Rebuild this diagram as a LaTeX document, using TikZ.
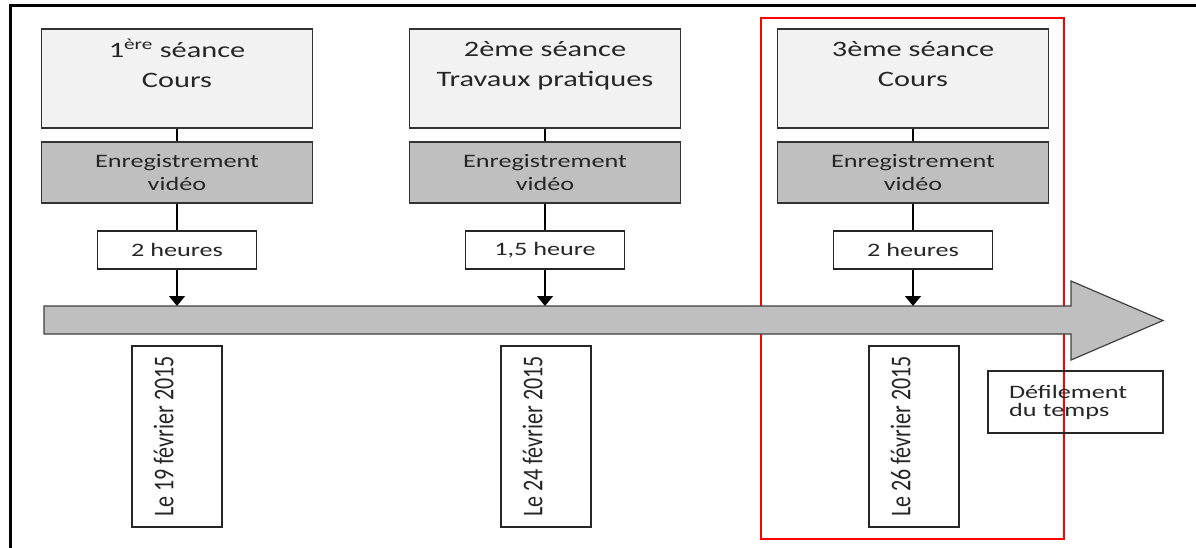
\documentclass[tikz,border=0pt]{standalone}
\usepackage{fontspec}
\setmainfont{Carlito}[FakeStretch=1.38]
\newfontfamily\datefont{Carlito}[FakeStretch=0.77]
\usetikzlibrary{arrows.meta}

\tikzset{
    session/.style={draw=black!80, line width=1.2pt, fill=black!5, minimum width=271pt, minimum height=99pt,
        align=center, font=\fontsize{22}{30}\selectfont},
    recording/.style={draw=black!80, line width=1.2pt, fill=black!25, minimum width=271pt, minimum height=61pt,
        align=center, font=\fontsize{19}{23}\selectfont},
    duration/.style={draw=black!85, line width=1.2pt, fill=white, minimum width=159pt, minimum height=38pt,
        font=\fontsize{19}{23}\selectfont},
    datebox/.style={draw=black!85, line width=1.2pt, rotate=90, minimum width=181pt, minimum height=90pt,
        align=center, font=\datefont\fontsize{28.6}{27}\selectfont},
    link/.style={draw=black, line width=1.3pt},
}

\begin{document}
\begin{tikzpicture}[x=1pt, y=-1pt, text=black!85]
    \useasboundingbox (0,0) rectangle (1196,548);
    \draw [line width=3pt] (10.5,548) -- (10.5,5.5) -- (1196,5.5);

    % sessions
    \node (session_1) [session] at (177,78.5) {1\textsuperscript{ère} séance\\Cours\\~};
    \node (session_2) [session] at (545,78.5) {2ème séance\\Travaux pratiques\\~};
    \node (session_3) [session] at (913,78.5) {3ème séance\\Cours\\~};

    \node (video_1) [recording] at (177,172.5) {Enregistrement\\vidéo};
    \node (video_2) [recording] at (545,172.5) {Enregistrement\\vidéo};
    \node (video_3) [recording] at (913,172.5) {Enregistrement\\vidéo};

    \node (length_1) [duration] at (177,250) {2 heures};
    \node (length_2) [duration] at (545,250) {1,5 heure};
    \node (length_3) [duration] at (913,250) {2 heures};

    \draw [link] (session_1) -- (video_1);
    \draw [link] (session_2) -- (video_2);
    \draw [link] (session_3) -- (video_3);
    \draw [link] (video_1) -- (length_1);
    \draw [link] (video_2) -- (length_2);
    \draw [link] (video_3) -- (length_3);

    % current session
    \draw [red, line width=2.5pt] (761,18) rectangle (1064,539);

    % time line
    \draw [fill=black!25, draw=black!75, line width=1.2pt]
        (44,306) -- (1071,306) -- (1071,281) -- (1163,320.5) -- (1071,360) -- (1071,334) -- (44,334) -- cycle;
    \coordinate (band_top) at (44,306);

    \draw [link, -{Triangle[width=16pt,length=10pt]}] (length_1) -- (length_1 |- band_top);
    \draw [link, -{Triangle[width=16pt,length=10pt]}] (length_2) -- (length_2 |- band_top);
    \draw [link, -{Triangle[width=16pt,length=10pt]}] (length_3) -- (length_3 |- band_top);

    \node (day_1) [datebox] at (177,436.5) {Le 19 février 2015\\~};
    \node (day_2) [datebox] at (546,436.5) {Le 24 février 2015\\~};
    \node (day_3) [datebox] at (914,436.5) {Le 26 février 2015\\~};

    \node (scroll) [draw=black!85, line width=1.2pt, align=left, text width=133pt, inner xsep=21pt,
        minimum height=62pt, font=\fontsize{19}{18}\selectfont] at (1075.5,402) {Défilement\\du temps};
\end{tikzpicture}
\end{document}
